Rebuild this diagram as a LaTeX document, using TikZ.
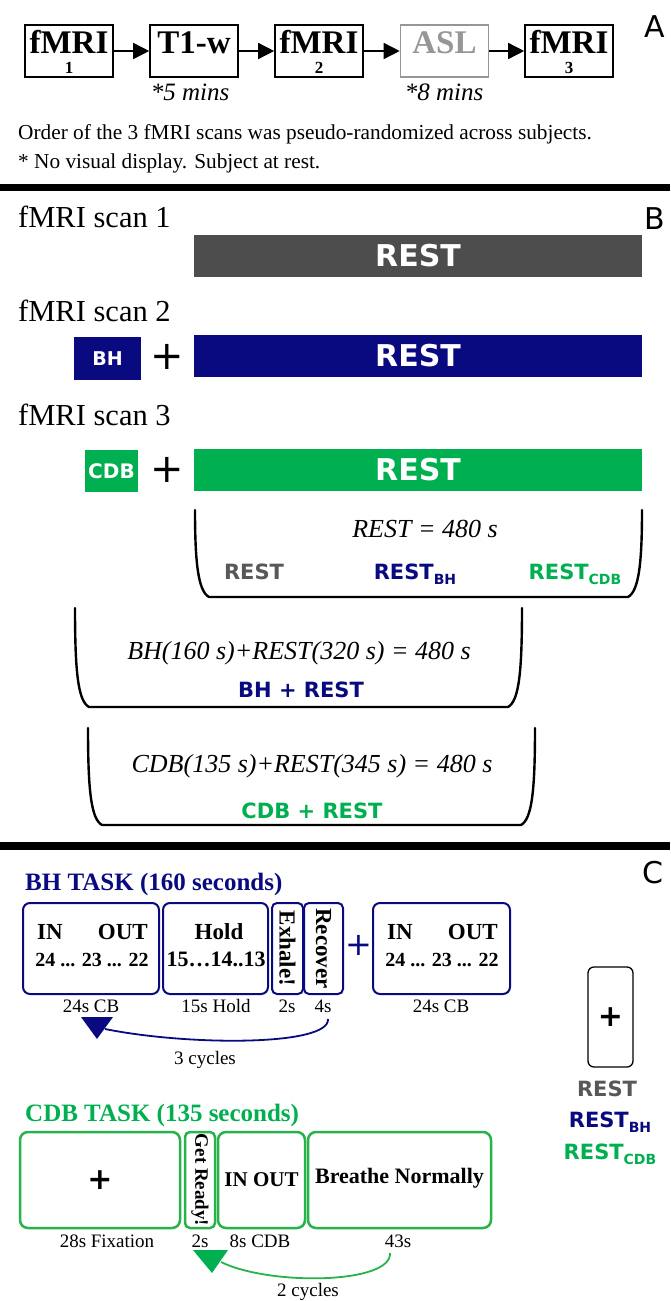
\documentclass[tikz,border=0pt]{standalone}
\usepackage{fontspec}
\setmainfont{Liberation Serif}
\newfontfamily\dv{DejaVu Sans}
\usetikzlibrary{arrows.meta}
\definecolor{navy}{RGB}{10,10,128}
\definecolor{grn}{RGB}{0,176,80}
\definecolor{grnline}{RGB}{40,178,75}
\definecolor{dgray}{RGB}{77,77,77}
\definecolor{tgray}{RGB}{88,88,88}
\definecolor{aslgray}{RGB}{150,150,150}
\newcommand{\fs}[1]{\fontsize{#1}{#1}\selectfont}
\newcommand{\subt}[1]{\raisebox{-5pt}{\fs{14}#1}}
\newcommand{\brk}[4]{\draw[bracket] (#1,#3) .. controls (#1,#4-35) and (#1+3,#4-6) .. (#1+14,#4) -- (#2-14,#4) .. controls (#2-3,#4-6) and (#2,#4-35) .. (#2,#3);}
\begin{document}
\begin{tikzpicture}[x=1pt,y=-1pt,
  abox/.style={draw, line width=1.6pt, minimum width=88pt, minimum height=52pt, inner sep=0pt},
  txt/.style={inner sep=0pt, anchor=base},
  txtl/.style={inner sep=0pt, anchor=base west},
  txtr/.style={inner sep=0pt, anchor=base east},
  bar/.style={minimum width=448pt, minimum height=42pt, inner sep=0pt, text=white, font=\dv\bfseries\fs{30}},
  bhbox/.style={draw=navy, line width=2pt, rounded corners=7pt, minimum height=91pt, inner sep=0pt},
  cdbbox/.style={draw=grnline, line width=2.5pt, rounded corners=8pt, minimum height=96pt, inner sep=0pt},
  bracket/.style={line width=2.4pt, line cap=round},
  seqarrow/.style={-{Triangle[length=16pt,width=16pt]}, line width=1.5pt},
  sanslab/.style={inner sep=0pt, anchor=base, font=\dv\bfseries\fs{21}},
  boxtxt/.style={inner sep=0pt, font=\bfseries\fs{22}},
  durlab/.style={inner sep=0pt, anchor=base, font=\fs{19}}
]
\fill[white] (0,0) rectangle (670,1301);
\useasboundingbox (0,0) rectangle (670,1301);

% ---------------- A ----------------
\node[abox] (a1) at (69,51) {};
\node[abox] (a2) at (194,51) {};
\node[abox] (a3) at (319,51) {};
\node[abox, draw=aslgray] (a4) at (444.5,51) {};
\node[abox] (a5) at (569,51) {};
\node[txt, font=\bfseries\fs{33}] (a1t) at (69,53) {fMRI};
\node[txt, font=\bfseries\fs{17}] (a1n) at (69,73) {1};
\node[txt, font=\bfseries\fs{33}] (a2t) at (194,53) {T1-w};
\node[txt, font=\bfseries\fs{33}] (a3t) at (319,53) {fMRI};
\node[txt, font=\bfseries\fs{17}] (a3n) at (319,73) {2};
\node[txt, font=\bfseries\fs{33}, text=aslgray] (a4t) at (444.5,53) {ASL};
\node[txt, font=\bfseries\fs{33}] (a5t) at (569,53) {fMRI};
\node[txt, font=\bfseries\fs{17}] (a5n) at (569,73) {3};
\draw[seqarrow] (a1.east) -- (a2.west);
\draw[seqarrow] (a2.east) -- (a3.west);
\draw[seqarrow] (a3.east) -- (a4.west);
\draw[seqarrow] (a4.east) -- (a5.west);
\node[txt, font=\itshape\fs{25}] (t1min) at (190,100) {*5 mins};
\node[txt, font=\itshape\fs{25}] (aslmin) at (444,100) {*8 mins};
\node[txtl, font=\fs{21.3}] (note1) at (18,139) {Order of the 3 fMRI scans was pseudo-randomized across subjects.};
\node[txtl, font=\fs{21.3}] (note2) at (18,168) {* No visual display. Subject at rest.};
\node[txt, font=\dv\fs{30}] (labA) at (655,37) {A};
\fill[black] (0,184) rectangle (670,191);

% ---------------- B ----------------
\node[txt, font=\dv\fs{30}] (labB) at (655,229) {B};
\node[txtl, font=\fs{30.5}] (s1) at (18,227) {fMRI scan 1};
\node[txtl, font=\fs{30.5}] (s2) at (18,321) {fMRI scan 2};
\node[txtl, font=\fs{30.5}] (s3) at (18,425) {fMRI scan 3};
\node[bar, fill=dgray] (rest1) at (418,256) {REST};
\node[bar, fill=navy] (rest2) at (418,356) {REST};
\node[bar, fill=grn] (rest3) at (418,469.5) {REST};
\node[fill=navy, minimum width=67pt, minimum height=43pt, inner sep=0pt, text=white, font=\dv\bfseries\fs{19}] (bh) at (107.5,358.5) {BH};
\node[fill=grn, minimum width=53pt, minimum height=42pt, inner sep=0pt, text=white, font=\dv\bfseries\fs{20}] (cdb) at (111.5,471) {CDB};
\node[font=\dv\fs{40}, inner sep=0pt] (plus2) at (167,357) {+};
\node[font=\dv\fs{40}, inner sep=0pt] (plus3) at (167,470) {+};

\brk{195}{642}{510}{597}
\brk{75}{522}{608}{707}
\brk{88}{535}{728}{825}
\node[txt, font=\itshape\fs{26}] (eq1) at (425,537) {REST = 480 s};
\node[sanslab, text=tgray] (r1) at (254,579) {REST};
\node[sanslab, text=navy] (r2) at (415,579) {REST\subt{BH}};
\node[sanslab, text=grn] (r3) at (575,579) {REST\subt{CDB}};
\node[txt, font=\itshape\fs{26}] (eq2) at (299,659) {BH(160 s)+REST(320 s) = 480 s};
\node[sanslab, text=navy] (bhrest) at (301,697) {BH + REST};
\node[txt, font=\itshape\fs{26}] (eq3) at (312,772) {CDB(135 s)+REST(345 s) = 480 s};
\node[sanslab, text=grn] (cdbrest) at (312,818) {CDB + REST};
\fill[black] (0,842) rectangle (670,850);

% ---------------- C ----------------
\node[txt, font=\dv\fs{30}] (labC) at (653,883) {C};
\node[txtl, font=\bfseries\fs{25}, text=navy] (bhtitle) at (25,890) {BH TASK (160 seconds)};
\node[bhbox, minimum width=136pt] (cb1) at (91,948.5) {};
\node[bhbox, minimum width=105pt] (hold) at (215.5,948.5) {};
\node[bhbox, minimum width=31pt, rounded corners=5pt] (exh) at (287.5,948.5) {};
\node[bhbox, minimum width=39pt, rounded corners=5pt] (rec) at (323.5,948.5) {};
\node[bhbox, minimum width=137pt] (cb2) at (441.5,948.5) {};
\node[font=\dv\fs{32}, text=navy, inner sep=0pt] (bhplus) at (359,945) {+};
\node[boxtxt, anchor=base west, font=\bfseries\fs{23}] (in1) at (37,939) {IN};
\node[boxtxt, anchor=base east, font=\bfseries\fs{23}] (out1) at (148,939) {OUT};
\node[boxtxt, anchor=base, font=\bfseries\fs{20}] (cnt1) at (92,966) {24 ... 23 ... 22};
\node[boxtxt, anchor=base, font=\bfseries\fs{23}] (holdt) at (219,939) {Hold};
\node[boxtxt, anchor=base] (holdc) at (216,966) {15…14..13};
\node[boxtxt, rotate=-90, font=\bfseries\fs{23}] (exht) at (287.5,948.5) {Exhale!};
\node[boxtxt, rotate=-90, font=\bfseries\fs{23}] (rect) at (323.5,948.5) {Recover};
\node[boxtxt, anchor=base west, font=\bfseries\fs{23}] (in2) at (387,939) {IN};
\node[boxtxt, anchor=base east, font=\bfseries\fs{23}] (out2) at (498,939) {OUT};
\node[boxtxt, anchor=base, font=\bfseries\fs{20}] (cnt2) at (442,966) {24 ... 23 ... 22};
\node[durlab] (d1) at (91,1012) {24s CB};
\node[durlab] (d2) at (216,1012) {15s Hold};
\node[durlab] (d3) at (287,1012) {2s};
\node[durlab] (d4) at (323,1012) {4s};
\node[durlab] (d5) at (441,1012) {24s CB};
\coordinate (bhS) at (328,1019);
\coordinate (bhE) at (105,1029);
\draw[navy, line width=1.8pt] (bhS) .. controls (330,1046) and (190,1046) .. (bhE);
\fill[navy] (81,1017) -- (113,1017) -- (97,1039) -- cycle;
\node[durlab] (cyc3) at (205,1064) {3 cycles};

\node[draw, line width=1.3pt, rounded corners=6pt, minimum width=45pt, minimum height=100pt, inner sep=0pt, font=\dv\bfseries\fs{30}] (scr) at (610.5,1017) {+};
\node[sanslab, text=tgray] (lr1) at (607,1096) {REST};
\node[sanslab, text=navy] (lr2) at (610,1127) {REST\subt{BH}};
\node[sanslab, text=grn] (lr3) at (610,1159) {REST\subt{CDB}};

\node[txtl, font=\bfseries\fs{25}, text=grn] (cdbtitle) at (25,1121) {CDB TASK (135 seconds)};
\node[cdbbox, minimum width=160pt, font=\dv\bfseries\fs{30}] (fix) at (100,1180) {+};
\node[cdbbox, minimum width=30pt, rounded corners=5pt] (gr) at (200,1180) {};
\node[cdbbox, minimum width=87pt] (io) at (261.5,1180) {};
\node[cdbbox, minimum width=183pt] (bn) at (399.5,1180) {};
\node[boxtxt, rotate=-90, font=\bfseries\fs{19}] (grt) at (200,1180) {Get Ready!};
\node[boxtxt, font=\bfseries\fs{21}] (iot) at (261.5,1180) {IN OUT};
\node[boxtxt, font=\bfseries\fs{22}] (bnt) at (399.5,1178) {Breathe Normally};
\node[durlab] (e1) at (107,1247) {28s Fixation};
\node[durlab] (e2) at (200,1247) {2s};
\node[durlab] (e3) at (260,1247) {8s CDB};
\node[durlab] (e4) at (398,1247) {43s};
\coordinate (cdS) at (390,1253);
\coordinate (cdE) at (221,1262);
\draw[grnline, line width=1.8pt] (cdS) .. controls (392,1284) and (270,1286) .. (cdE);
\fill[grn] (193,1250) -- (228,1250) -- (212,1273) -- cycle;
\node[durlab] (cyc2) at (308,1296) {2 cycles};
\end{tikzpicture}
\end{document}
